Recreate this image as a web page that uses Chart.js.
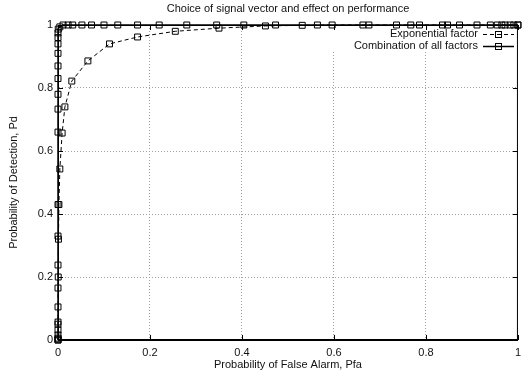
<!DOCTYPE html>
<html>
<head>
<meta charset="utf-8">
<script src="https://cdn.jsdelivr.net/npm/chart.js@4.4.0/dist/chart.umd.min.js"></script>
<style>
  html, body { margin: 0; padding: 0; background: #fff; }
  canvas { display: block; }
</style>
</head>
<body>
<canvas id="chartCanvas" width="527" height="374"></canvas>
<script>
// Values
const chartTitle = 'Choice of signal vector and effect on performance';
const xTitle = 'Probability of False Alarm, Pfa';
const yTitle = 'Probability of Detection, Pd';
const seriesNames = ['Exponential factor', 'Combination of all factors'];

const expPfa = [0, 0, 0.0005, 0.001, 0.002, 0.004, 0.009, 0.015, 0.03, 0.065,
  0.112, 0.173, 0.255, 0.35, 0.451, 0.531, 0.596, 0.676, 0.736, 0.786,
  0.836, 0.873, 0.911, 0.955, 0.965, 0.983, 1];
const expPd = [0, 0.05, 0.2, 0.32, 0.43, 0.543, 0.657, 0.74, 0.822, 0.886,
  0.94, 0.962, 0.98, 0.99, 0.997, 0.999, 1, 1, 1, 1,
  1, 1, 1, 1, 1, 1, 1];

const comboPfa = [0, 0, 0, 0, 0, 0, 0, 0, 0, 0, 0, 0, 0, 0, 0, 0, 0, 0, 0, 0, 0.0005,
  0.004, 0.011, 0.022, 0.032, 0.052, 0.073, 0.10, 0.13, 0.173, 0.22, 0.28,
  0.345, 0.404, 0.473, 0.564, 0.663, 0.767, 0.847, 0.94, 0.972, 0.991, 1];
const comboPd = [0, 0.003, 0.006, 0.016, 0.032, 0.057, 0.105, 0.165, 0.238, 0.33, 0.43,
  0.66, 0.733, 0.78, 0.83, 0.87, 0.91, 0.94, 0.96, 0.975, 0.987,
  0.994, 1, 1, 1, 1, 1, 1, 1, 1, 1, 1,
  1, 1, 1, 1, 1, 1, 1, 1, 1, 1, 1];

const tickValues = [0, 0.2, 0.4, 0.6, 0.8, 1];
const tickLabels = ['0', '0.2', '0.4', '0.6', '0.8', '1'];

const FONT = 'Liberation Sans, Arial, Helvetica, sans-serif';
const FONT_SIZE = 11;

function toPoints(xs, ys) {
  return xs.map((x, i) => ({ x: x, y: ys[i] }));
}

function tickLabel(value) {
  const i = tickValues.findIndex(t => Math.abs(t - value) < 1e-6);
  return i >= 0 ? tickLabels[i] : '';
}

// frame, inward ticks, title and key drawn gnuplot style
const gnuplotFrame = {
  id: 'gnuplotFrame',
  beforeDatasetsDraw(chart) {
    // gnuplot leaves the grid out behind the key
    const { ctx, chartArea } = chart;
    ctx.save();
    ctx.fillStyle = '#fff';
    ctx.fillRect(330, chartArea.top + 1, chartArea.right - 331, 25);
    ctx.restore();
  },
  afterDraw(chart) {
    const { ctx, chartArea, scales } = chart;
    const { left, right, top, bottom } = chartArea;
    ctx.save();
    ctx.strokeStyle = '#000';
    ctx.lineWidth = 1;
    ctx.strokeRect(left + 0.5, top + 0.5, right - left - 1, bottom - top - 1);

    ctx.beginPath();
    tickValues.forEach(v => {
      const px = Math.round(scales.x.getPixelForValue(v)) + 0.5;
      ctx.moveTo(px, bottom); ctx.lineTo(px, bottom - 5);
      ctx.moveTo(px, top); ctx.lineTo(px, top + 5);
      const py = Math.round(scales.y.getPixelForValue(v)) + 0.5;
      ctx.moveTo(left, py); ctx.lineTo(left + 5, py);
      ctx.moveTo(right, py); ctx.lineTo(right - 5, py);
    });
    ctx.stroke();

    // title
    ctx.fillStyle = '#111';
    ctx.font = FONT_SIZE + 'px ' + FONT;
    ctx.textAlign = 'center';
    ctx.textBaseline = 'middle';
    ctx.fillText(chartTitle, (left + right) / 2, 9);

    // key
    const rows = [34, 46];
    chart.data.datasets.forEach((ds, i) => {
      const y = rows[i];
      ctx.textAlign = 'right';
      ctx.fillText(seriesNames[i], 478, y);
      ctx.save();
      ctx.strokeStyle = '#000';
      ctx.lineWidth = ds.borderWidth;
      ctx.setLineDash(ds.borderDash || []);
      ctx.beginPath();
      ctx.moveTo(483, y + 0.5);
      ctx.lineTo(514, y + 0.5);
      ctx.stroke();
      ctx.setLineDash([]);
      ctx.lineWidth = 1;
      ctx.strokeRect(495.5, y - 2.5, 6, 6);
      ctx.restore();
    });
    ctx.restore();
  }
};

const axisCommon = {
  type: 'linear',
  min: 0,
  max: 1,
  grid: {
    color: '#a0a0a0',
    lineWidth: 1,
    drawTicks: false
  },
  border: { display: true, color: '#000', width: 1, dash: [1, 2] },
  ticks: {
    stepSize: 0.2,
    color: '#111',
    font: { family: FONT, size: FONT_SIZE },
    callback: tickLabel
  }
};

const ctx = document.getElementById('chartCanvas').getContext('2d');
new Chart(ctx, {
  type: 'line',
  data: {
    datasets: [
      {
        label: seriesNames[0],
        data: toPoints(expPfa, expPd),
        borderColor: '#000',
        borderWidth: 1,
        borderDash: [4, 3],
        pointStyle: 'rect',
        pointRadius: 4.2,
        pointBorderWidth: 1,
        pointBorderColor: '#000',
        pointBackgroundColor: 'rgba(0,0,0,0)',
        tension: 0,
        clip: false
      },
      {
        label: seriesNames[1],
        data: toPoints(comboPfa, comboPd),
        borderColor: '#000',
        borderWidth: 1.5,
        pointStyle: 'rect',
        pointRadius: 4.2,
        pointBorderWidth: 1,
        pointBorderColor: '#000',
        pointBackgroundColor: 'rgba(0,0,0,0)',
        tension: 0,
        clip: false
      }
    ]
  },
  options: {
    responsive: false,
    animation: false,
    layout: { autoPadding: false, padding: { top: 25, right: 6, left: 0, bottom: 0 } },
    plugins: {
      legend: { display: false },
      tooltip: { enabled: false }
    },
    scales: {
      x: Object.assign({}, axisCommon, {
        position: 'bottom',
        ticks: Object.assign({}, axisCommon.ticks, { padding: 6, maxRotation: 0 }),
        title: {
          display: true, text: xTitle, color: '#111',
          font: { family: FONT, size: FONT_SIZE },
          padding: { top: 0, bottom: 2 }
        },
        afterFit(scale) { scale.height = 34; }
      }),
      y: Object.assign({}, axisCommon, {
        position: 'left',
        ticks: Object.assign({}, axisCommon.ticks, { padding: 5 }),
        title: {
          display: true, text: yTitle, color: '#111',
          font: { family: FONT, size: FONT_SIZE },
          padding: { top: 7, bottom: 0 }
        },
        afterFit(scale) { scale.width = 58; }
      })
    }
  },
  plugins: [gnuplotFrame]
});
</script>
</body>
</html>
